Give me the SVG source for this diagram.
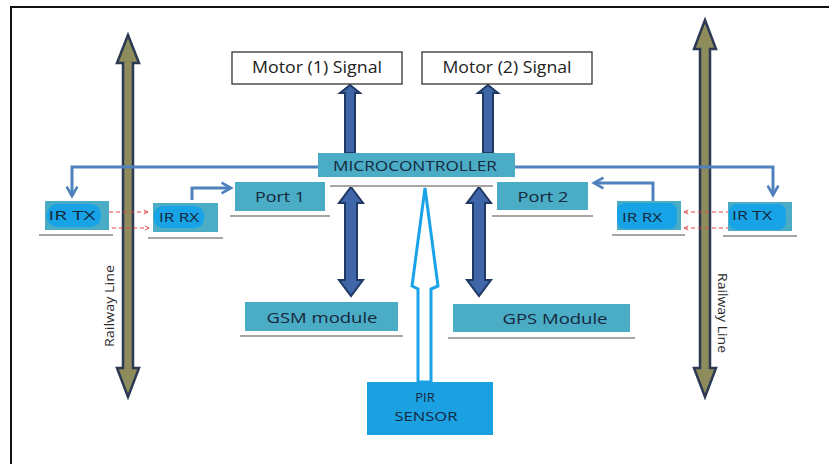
<svg xmlns="http://www.w3.org/2000/svg" width="829" height="464" viewBox="0 0 829 464">
<defs>
<style>
.box{fill:#4BACC6}
.blob{fill:#17A3E6}
.ul{stroke:#A9A5A1;stroke-width:2}
.lbl{font-family:"Open Sans","Liberation Sans",sans-serif;fill:#15283C;text-anchor:middle}
.mot{font-family:"Open Sans","Liberation Sans",sans-serif;fill:#222222;text-anchor:middle;font-size:16px}
.conn{fill:none;stroke:#4F81BD;stroke-width:3}
.red{fill:none;stroke:#E0474C;stroke-width:1.2;stroke-dasharray:4 3}
.dark{fill:#3F66A8;stroke:#1F3864;stroke-width:2;stroke-linejoin:miter}
.rail{fill:#8E8B5C;stroke:#2B3A52;stroke-width:2.5;stroke-linejoin:miter}
.rtxt{font-family:"Open Sans","Liberation Sans",sans-serif;font-size:13.5px;fill:#2A2A2A;text-anchor:middle}
</style>
<marker id="chev" viewBox="0 0 10 10" refX="8" refY="5" markerWidth="4.5" markerHeight="4.5" orient="auto" markerUnits="strokeWidth">
<path d="M1,1 L8,5 L1,9" fill="none" stroke="#4F81BD" stroke-width="2"/>
</marker>
<marker id="redh" viewBox="0 0 10 10" refX="9" refY="5" markerWidth="6" markerHeight="6" orient="auto" markerUnits="userSpaceOnUse">
<path d="M2,1.5 L9,5 L2,8.5" fill="none" stroke="#E0474C" stroke-width="1.4"/>
</marker>
</defs>
<rect x="0" y="0" width="829" height="464" fill="#FFFFFF"/>
<g id="frame">
<path d="M11,464 V7 H829" fill="none" stroke="#111111" stroke-width="2"/>
</g>

<g id="railway-left">
<polygon class="rail" points="128,35 139,63 133,63 133,368 139,368 128,397 117,368 123,368 123,63 117,63"/>
<text class="rtxt" transform="translate(114,306) rotate(-90)" textLength="82" lengthAdjust="spacingAndGlyphs">Railway Line</text>
</g>
<g id="railway-right">
<polygon class="rail" points="705,20 716,49 710,49 710,368 716,368 705,397 694,368 700,368 700,49 694,49"/>
<text class="rtxt" transform="translate(718,313) rotate(90)" textLength="80" lengthAdjust="spacingAndGlyphs">Railway Line</text>
</g>

<g id="connectors">
<path class="conn" d="M318,167 H72 V196" marker-end="url(#chev)"/>
<path class="conn" d="M515,167 H773 V195" marker-end="url(#chev)"/>
<path class="conn" d="M192,200 V188 H231" marker-end="url(#chev)"/>
<path class="conn" d="M653,201 V183 H594" marker-end="url(#chev)"/>
<line class="red" x1="102" y1="212" x2="148" y2="212" marker-end="url(#redh)"/>
<line class="red" x1="105" y1="228" x2="149" y2="228" marker-end="url(#redh)"/>
<line class="red" x1="730" y1="212" x2="684" y2="212" marker-end="url(#redh)"/>
<line class="red" x1="730" y1="228" x2="684" y2="228" marker-end="url(#redh)"/>
<polygon class="dark" points="350,85 360,93 355,93 355,153 345,153 345,93 340,93"/>
<polygon class="dark" points="488,85 498,93 493,93 493,153 483,153 483,93 478,93"/>
<polygon class="dark" points="351,187 363,203 357,203 357,280 363,280 351,296 339,280 345,280 345,203 339,203"/>
<polygon class="dark" points="479,187 491,203 485,203 485,280 491,280 479,296 467,280 473,280 473,203 467,203"/>
<polygon points="425,188 438,286 431,289 431,382 418,382 418,289 412,286" fill="#FFFFFF" stroke="#1AA3E8" stroke-width="3" stroke-linejoin="miter"/>
</g>

<g id="motor1">
<rect x="232" y="52" width="170" height="32" fill="#FFFFFF" stroke="#222222" stroke-width="1.2"/>
<text class="mot" x="317" y="73" textLength="130" lengthAdjust="spacingAndGlyphs">Motor (1) Signal</text>
</g>
<g id="motor2">
<rect x="422" y="52" width="170" height="32" fill="#FFFFFF" stroke="#222222" stroke-width="1.2"/>
<text class="mot" x="507" y="73" textLength="129" lengthAdjust="spacingAndGlyphs">Motor (2) Signal</text>
</g>

<g id="microcontroller">
<rect class="box" x="318" y="153" width="197" height="24"/>
<line class="ul" x1="330" y1="186" x2="493" y2="186"/>
<text class="lbl" x="415" y="171" font-size="14" textLength="164" lengthAdjust="spacingAndGlyphs">MICROCONTROLLER</text>
</g>

<g id="ir-tx-left">
<rect class="box" x="45" y="201" width="64" height="29"/>
<rect class="blob" x="47" y="204" width="54" height="23" rx="10"/>
<line class="ul" x1="39" y1="235" x2="113" y2="235"/>
<text class="lbl" x="72" y="220" font-size="13" textLength="47" lengthAdjust="spacingAndGlyphs">IR TX</text>
</g>
<g id="ir-rx-left">
<rect class="box" x="153" y="203" width="65" height="29"/>
<rect class="blob" x="154" y="206" width="50" height="22" rx="9"/>
<line class="ul" x1="148" y1="238" x2="223" y2="238"/>
<text class="lbl" x="179" y="222" font-size="13" textLength="40" lengthAdjust="spacingAndGlyphs">IR RX</text>
</g>
<g id="port1">
<rect class="box" x="235" y="182" width="90" height="29"/>
<line class="ul" x1="230" y1="216" x2="330" y2="216"/>
<text class="lbl" x="280" y="202" font-size="15" textLength="50" lengthAdjust="spacingAndGlyphs">Port 1</text>
</g>
<g id="port2">
<rect class="box" x="497" y="182" width="91" height="28"/>
<line class="ul" x1="492" y1="216" x2="593" y2="216"/>
<text class="lbl" x="543" y="202" font-size="15" textLength="51" lengthAdjust="spacingAndGlyphs">Port 2</text>
</g>
<g id="ir-rx-right">
<rect class="box" x="617" y="201" width="64" height="29"/>
<rect class="blob" x="617" y="203" width="60" height="26" rx="8"/>
<line class="ul" x1="612" y1="235" x2="685" y2="235"/>
<text class="lbl" x="642" y="222" font-size="13" textLength="40" lengthAdjust="spacingAndGlyphs">IR RX</text>
</g>
<g id="ir-tx-right">
<rect class="box" x="728" y="202" width="64" height="29"/>
<rect class="blob" x="729" y="204" width="57" height="26" rx="8"/>
<line class="ul" x1="723" y1="236" x2="797" y2="236"/>
<text class="lbl" x="752" y="220" font-size="13" textLength="40" lengthAdjust="spacingAndGlyphs">IR TX</text>
</g>
<g id="gsm">
<rect class="box" x="245" y="302" width="153" height="29"/>
<line class="ul" x1="240" y1="336" x2="403" y2="336"/>
<text class="lbl" x="322" y="323" font-size="15" textLength="111" lengthAdjust="spacingAndGlyphs">GSM module</text>
</g>
<g id="gps">
<rect class="box" x="453" y="304" width="177" height="28"/>
<line class="ul" x1="448" y1="338" x2="635" y2="338"/>
<text class="lbl" x="555" y="324" font-size="15" textLength="105" lengthAdjust="spacingAndGlyphs">GPS Module</text>
</g>
<g id="pir">
<rect x="367" y="382" width="126" height="53" fill="#1BA1E2"/>
<text class="lbl" x="425" y="402" font-size="13">PIR</text>
<text class="lbl" x="426" y="421" font-size="13" textLength="63" lengthAdjust="spacingAndGlyphs">SENSOR</text>
</g>
</svg>
